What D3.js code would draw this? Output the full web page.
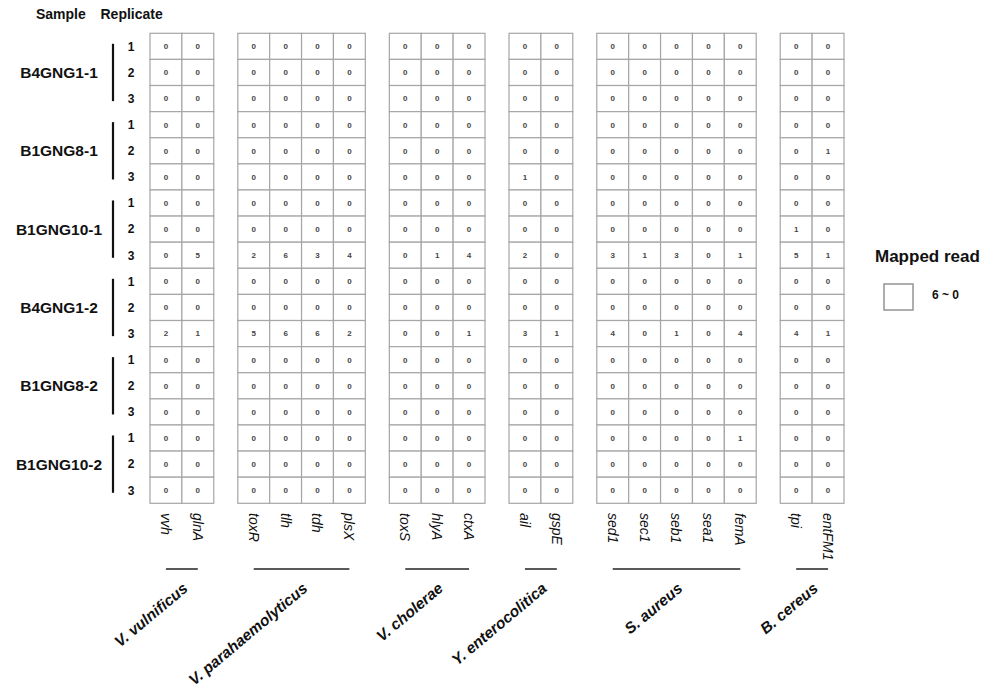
<!DOCTYPE html>
<html>
<head>
<meta charset="utf-8">
<script src="https://cdn.jsdelivr.net/npm/d3@7/dist/d3.min.js"></script>
<style>
  html, body { margin: 0; padding: 0; background: #fff; }
  svg { display: block; font-family: "Liberation Sans", Arial, Helvetica, sans-serif; }
</style>
</head>
<body>
<svg id="chart" width="984" height="688"></svg>
<script>
// ---------------- data ----------------
const samples = ["B4GNG1-1", "B1GNG8-1", "B1GNG10-1", "B4GNG1-2", "B1GNG8-2", "B1GNG10-2"];
const replicates = ["1", "2", "3"];
const species = ["V. vulnificus", "V. parahaemolyticus", "V. cholerae", "Y. enterocolitica", "S. aureus", "B. cereus"];
const speciesGenes = [
  ["vvh", "glnA"],
  ["toxR", "tlh", "tdh", "plsX"],
  ["toxS", "hlyA", "ctxA"],
  ["ail", "gspE"],
  ["sed1", "sec1", "seb1", "sea1", "femA"],
  ["tpi", "entFM1"]
];
// mapped reads: one row per sample x replicate, columns follow the gene order above
const mappedReads = [
  [0,0, 0,0,0,0, 0,0,0, 0,0, 0,0,0,0,0, 0,0],
  [0,0, 0,0,0,0, 0,0,0, 0,0, 0,0,0,0,0, 0,0],
  [0,0, 0,0,0,0, 0,0,0, 0,0, 0,0,0,0,0, 0,0],
  [0,0, 0,0,0,0, 0,0,0, 0,0, 0,0,0,0,0, 0,0],
  [0,0, 0,0,0,0, 0,0,0, 0,0, 0,0,0,0,0, 0,1],
  [0,0, 0,0,0,0, 0,0,0, 1,0, 0,0,0,0,0, 0,0],
  [0,0, 0,0,0,0, 0,0,0, 0,0, 0,0,0,0,0, 0,0],
  [0,0, 0,0,0,0, 0,0,0, 0,0, 0,0,0,0,0, 1,0],
  [0,5, 2,6,3,4, 0,1,4, 2,0, 3,1,3,0,1, 5,1],
  [0,0, 0,0,0,0, 0,0,0, 0,0, 0,0,0,0,0, 0,0],
  [0,0, 0,0,0,0, 0,0,0, 0,0, 0,0,0,0,0, 0,0],
  [2,1, 5,6,6,2, 0,0,1, 3,1, 4,0,1,0,4, 4,1],
  [0,0, 0,0,0,0, 0,0,0, 0,0, 0,0,0,0,0, 0,0],
  [0,0, 0,0,0,0, 0,0,0, 0,0, 0,0,0,0,0, 0,0],
  [0,0, 0,0,0,0, 0,0,0, 0,0, 0,0,0,0,0, 0,0],
  [0,0, 0,0,0,0, 0,0,0, 0,0, 0,0,0,0,1, 0,0],
  [0,0, 0,0,0,0, 0,0,0, 0,0, 0,0,0,0,0, 0,0],
  [0,0, 0,0,0,0, 0,0,0, 0,0, 0,0,0,0,0, 0,0]
];
const legendTitle = "Mapped read";
const legendRange = "6 ~ 0";

// ---------------- layout ----------------
const svg = d3.select("#chart");

const gapUnits = 0.753;   // gap between species blocks, in cell units
const genes = [];
let unit = 0;
speciesGenes.forEach((gs, si) => {
  if (si > 0) unit += gapUnits;
  gs.forEach(g => { genes.push({ gene: g, species: si, pos: unit }); unit += 1; });
});
const totalUnits = unit;

const x = d3.scaleLinear().domain([0, totalUnits]).range([150, 844]);
const cellW = x(1) - x(0);

const rowKeys = [];
samples.forEach(s => replicates.forEach(r => rowKeys.push(s + "|" + r)));
const y = d3.scaleBand().domain(rowKeys).range([33.3, 503.3]).padding(0);
const cellH = y.bandwidth();

// ---------------- cells ----------------
const cells = [];
rowKeys.forEach((rk, ri) => {
  genes.forEach((g, gi) => {
    cells.push({ row: rk, gene: g, value: mappedReads[ri][gi] });
  });
});

const cellG = svg.append("g");
cellG.selectAll("rect").data(cells).join("rect")
  .attr("x", d => x(d.gene.pos))
  .attr("y", d => y(d.row))
  .attr("width", cellW)
  .attr("height", cellH)
  .attr("fill", "#ffffff")
  .attr("stroke", "#a6a6a6")
  .attr("stroke-width", 1.2);

cellG.selectAll("text").data(cells).join("text")
  .attr("x", d => x(d.gene.pos + 0.5))
  .attr("y", d => y(d.row) + cellH / 2)
  .attr("dy", "0.36em")
  .attr("text-anchor", "middle")
  .attr("font-size", 8)
  .attr("font-weight", "bold")
  .attr("fill", "#4a4540")
  .text(d => d.value);

// ---------------- left labels ----------------
svg.append("text").attr("x", 36).attr("y", 19)
  .attr("font-size", 14).attr("font-weight", "bold").attr("fill", "#111").text("Sample");
svg.append("text").attr("x", 100.5).attr("y", 19)
  .attr("font-size", 14).attr("font-weight", "bold").attr("fill", "#111").text("Replicate");

const sampleG = svg.append("g");
samples.forEach(s => {
  const top = y(s + "|1"), bottom = y(s + "|3") + cellH;
  sampleG.append("line")
    .attr("x1", 113).attr("x2", 113)
    .attr("y1", top + 10.5).attr("y2", bottom - 10.5)
    .attr("stroke", "#111").attr("stroke-width", 2.2);
  sampleG.append("text")
    .attr("x", 59).attr("y", y(s + "|2") + cellH / 2)
    .attr("dy", "0.36em")
    .attr("text-anchor", "middle")
    .attr("font-size", 15.5).attr("font-weight", "bold").attr("fill", "#111")
    .text(s);
  replicates.forEach(r => {
    sampleG.append("text")
      .attr("x", 131).attr("y", y(s + "|" + r) + cellH / 2)
      .attr("dy", "0.36em")
      .attr("text-anchor", "middle")
      .attr("font-size", 12).attr("font-weight", "bold").attr("fill", "#111")
      .text(r);
  });
});

// ---------------- gene labels ----------------
svg.append("g").selectAll("text").data(genes).join("text")
  .attr("transform", d => `translate(${x(d.pos + 0.5)},513) rotate(90)`)
  .attr("dy", "0.36em")
  .attr("text-anchor", "start")
  .attr("font-size", 14)
  .attr("font-style", "italic")
  .attr("fill", "#111")
  .text(d => d.gene);

// ---------------- species lines & labels ----------------
const spG = svg.append("g");
speciesGenes.forEach((gs, si) => {
  const first = genes.find(g => g.species === si);
  const x1 = x(first.pos + 0.5);
  const x2 = x(first.pos + gs.length - 0.5);
  spG.append("line")
    .attr("x1", x1).attr("x2", x2).attr("y1", 569).attr("y2", 569)
    .attr("stroke", "#222").attr("stroke-width", 1.4);
  spG.append("text")
    .attr("transform", `translate(${(x1 + x2) / 2 + 7},590) rotate(-40)`)
    .attr("text-anchor", "end")
    .attr("font-size", 15.5)
    .attr("font-weight", "bold")
    .attr("font-style", "italic")
    .attr("fill", "#111")
    .text(species[si]);
});

// ---------------- legend ----------------
svg.append("text").attr("x", 875).attr("y", 262)
  .attr("font-size", 17).attr("font-weight", "bold").attr("fill", "#111").text(legendTitle);
svg.append("rect").attr("x", 884).attr("y", 284).attr("width", 29).attr("height", 26)
  .attr("fill", "#fff").attr("stroke", "#9a9a9a").attr("stroke-width", 1.6);
svg.append("text").attr("x", 932).attr("y", 295).attr("dy", "0.36em")
  .attr("font-size", 12).attr("font-weight", "bold").attr("fill", "#111").text(legendRange);
</script>
</body>
</html>
